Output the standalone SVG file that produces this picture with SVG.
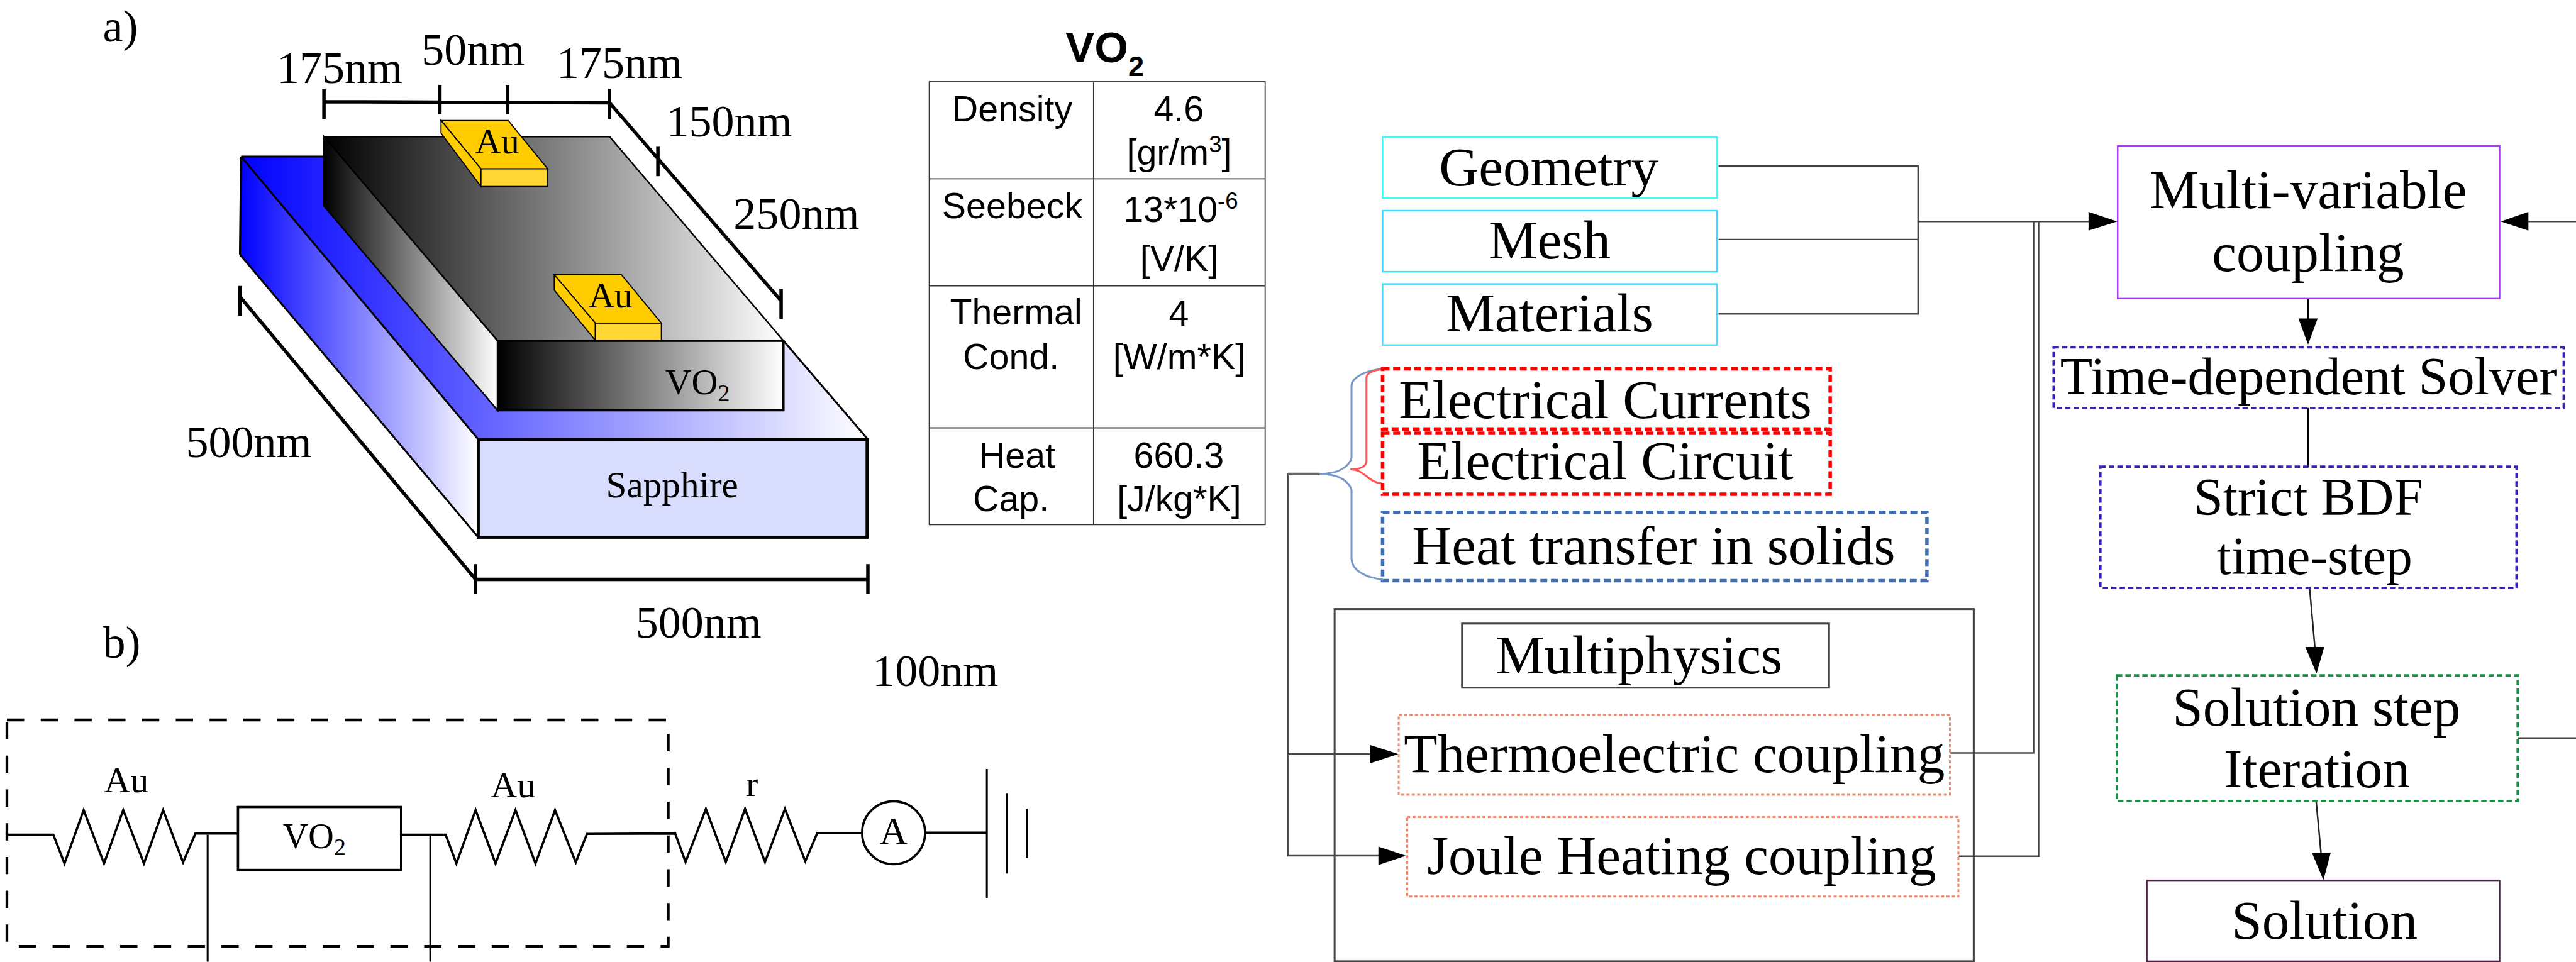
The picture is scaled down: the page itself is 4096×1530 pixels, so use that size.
<svg xmlns="http://www.w3.org/2000/svg" width="4096" height="1530" viewBox="0 0 4096 1530">
<style>
text{font-family:"Liberation Serif","Times New Roman",serif;fill:#000}
.d{font-size:118px}
.au{font-size:94px}
.m{text-anchor:middle}
.fl{font-size:143px;text-anchor:middle}
.t{font-family:"Liberation Sans",Arial,sans-serif;font-size:94px;text-anchor:middle}
.l{fill:none;stroke:#000;stroke-width:9}
.w{fill:none;stroke:#000;stroke-width:5}
.c{fill:none;stroke:#444;stroke-width:4}
.cy{fill:#fff;stroke-width:4}
.dot{fill:none;stroke-width:9;stroke-dasharray:18 9.5}
.dot2{fill:none;stroke-width:6;stroke-dasharray:14 8}
.sal{fill:none;stroke:#ef8a6e;stroke-width:5;stroke-dasharray:8 6}
.cell{fill:none;stroke:#333;stroke-width:3}
.edge{stroke:#000;stroke-width:4}
.thin{fill:none;stroke:#000;stroke-width:5}
</style>
<defs>
<linearGradient id="gBlueTop" gradientUnits="userSpaceOnUse" x1="628" y1="0" x2="2261" y2="0"><stop offset="0" stop-color="#0000ff"/><stop offset="1" stop-color="#ffffff"/></linearGradient>
<linearGradient id="gBlueLeft" gradientUnits="userSpaceOnUse" x1="625" y1="0" x2="1246" y2="0"><stop offset="0" stop-color="#0000ff"/><stop offset="1" stop-color="#ffffff"/></linearGradient>
<linearGradient id="gTop" gradientUnits="userSpaceOnUse" x1="844" y1="0" x2="2042" y2="0"><stop offset="0" stop-color="#000"/><stop offset="1" stop-color="#fff"/></linearGradient>
<linearGradient id="gLeft" gradientUnits="userSpaceOnUse" x1="844" y1="0" x2="1297" y2="0"><stop offset="0" stop-color="#000"/><stop offset="1" stop-color="#fff"/></linearGradient>
<linearGradient id="gFront" gradientUnits="userSpaceOnUse" x1="1297" y1="0" x2="2042" y2="0"><stop offset="0" stop-color="#000"/><stop offset="1" stop-color="#fff"/></linearGradient>
</defs>
<rect width="4096" height="1530" fill="#fff"/>
<g transform="scale(0.61034)">

<g id="panel-a">
<text x="268" y="108" class="d">a)</text>
<text x="721" y="216" class="d">175nm</text>
<text x="1098" y="168" class="d">50nm</text>
<text x="1450" y="203" class="d">175nm</text>
<text x="1736" y="356" class="d">150nm</text>
<text x="1911" y="596" class="d">250nm</text>
<text x="484" y="1191" class="d">500nm</text>
<text x="1656" y="1661" class="d">500nm</text>
<path class="l" d="M844 265L1588 268L2035 784M844 231V310M1146 221V298M1322 221V298M1588 231V310M1714 381V459M2035 752V831"/>
<path class="l" d="M625 773L1239 1510H2261M625 745V823M1239 1470V1547M2261 1470V1547"/>
</g>

<g id="sapphire">
<polygon points="628,408 1625,408 2261,1145 1246,1145" fill="url(#gBlueTop)"/>
<polygon points="628,408 625,663 1246,1400 1246,1145" fill="url(#gBlueLeft)"/>
<path class="thin" d="M628,408L1246,1145M628,408H850M625,663L1246,1400M628,408L625,663M2042,889L2261,1145"/>
<rect x="1246" y="1145" width="1013" height="255" fill="#d9ddfd" stroke="#000" stroke-width="8"/>
<text x="1751" y="1296" font-size="97" class="m">Sapphire</text>
</g>

<g id="vo2-film">
<polygon class="edge" points="844,356 1588,356 2042,889 1297,889" fill="url(#gTop)"/>
<polygon class="edge" points="844,356 844,537 1297,1070 1297,889" fill="url(#gLeft)"/>
<rect x="1297" y="888" width="744" height="181" fill="url(#gFront)" stroke="#000" stroke-width="6"/>
<text x="1733" y="1028" font-size="95">VO<tspan font-size="62" dy="17">2</tspan></text>
</g>

<g id="au-pad-1">
<polygon points="1149,314 1324,314 1427,440 1253,440" fill="#ffcc00" stroke="#000" stroke-width="3"/>
<polygon points="1149,314 1149,347 1253,486 1253,440" fill="#ffcc00" stroke="#000" stroke-width="3"/>
<rect x="1253" y="440" width="174" height="46" fill="#ffd633" stroke="#000" stroke-width="3"/>
<text x="1238" y="400" class="au">Au</text>
</g>
<g id="au-pad-2">
<polygon points="1444,716 1619,716 1723,842 1551,842" fill="#ffcc00" stroke="#000" stroke-width="3"/>
<polygon points="1444,716 1444,756 1551,887 1551,842" fill="#ffcc00" stroke="#000" stroke-width="3"/>
<rect x="1551" y="842" width="172" height="45" fill="#ffd633" stroke="#000" stroke-width="3"/>
<text x="1533" y="802" class="au">Au</text>
</g>

<g id="panel-b-label"><text x="268" y="1713" class="d">b)</text></g>
<g id="label-100nm"><text x="2273" y="1788" class="d">100nm</text></g>

<g id="table">
<text x="2776" y="162" font-size="113" font-weight="700" style="font-family:'Liberation Sans',Arial,sans-serif">VO<tspan font-size="74" dy="37">2</tspan></text>
<rect class="cell" x="2421" y="213" width="875" height="1154"/>
<path class="cell" d="M2849 213V1367M2421 466H3296M2421 745H3296M2421 1115H3296"/>
<text class="t" x="2637" y="316">Density</text>
<text class="t" x="3071" y="316">4.6</text>
<text class="t" x="3072" y="430">[gr/m<tspan font-size="60" dy="-34">3</tspan><tspan dy="34">]</tspan></text>
<text class="t" x="2637" y="569">Seebeck</text>
<text class="t" x="3076" y="578">13*10<tspan font-size="60" dy="-34">-6</tspan></text>
<text class="t" x="3072" y="706">[V/K]</text>
<text class="t" x="2647" y="846">Thermal</text>
<text class="t" x="2634" y="962">Cond.</text>
<text class="t" x="3071" y="849">4</text>
<text class="t" x="3072" y="962">[W/m*K]</text>
<text class="t" x="2650" y="1219">Heat</text>
<text class="t" x="2634" y="1332">Cap.</text>
<text class="t" x="3071" y="1219">660.3</text>
<text class="t" x="3072" y="1332">[J/kg*K]</text>
</g>

<g id="circuit">
<rect x="18" y="1876" width="1723" height="590" fill="none" stroke="#000" stroke-width="7" stroke-dasharray="45 43"/>
<path class="l" style="stroke-width:6" d="M18 2175H139L168 2250L218 2111L271 2250L321 2111L375 2250L425 2111L477 2247L509 2172H620"/>
<path class="l" style="stroke-width:6" d="M1045 2175H1161L1189 2250L1239 2111L1291 2250L1343 2111L1395 2250L1446 2111L1500 2247L1529 2173L1759 2172L1786 2246L1839 2108L1891 2246L1941 2108L1993 2246L2045 2108L2098 2244L2129 2171H2246"/>
<path class="l" style="stroke-width:6" d="M2410 2170H2571"/>
<path class="w" d="M2571 2004V2340M2623 2068V2276M2675 2108V2236M541 2175V2506M1121 2175V2506"/>
<rect x="620" y="2103" width="425" height="164" fill="#fff" stroke="#000" stroke-width="6"/>
<text x="737" y="2210" font-size="92">VO<tspan font-size="62" dy="19">2</tspan></text>
<circle cx="2328" cy="2170" r="82" fill="#fff" stroke="#000" stroke-width="6"/>
<text x="2328" y="2198" font-size="100" class="m">A</text>
<text x="271" y="2065" font-size="95">Au</text>
<text x="1279" y="2077" font-size="95">Au</text>
<text x="1943" y="2074" font-size="95">r</text>
</g>

<g id="connectors">
<path class="c" d="M4477 433H4997V818H4477M4477 624H4997M4997 577H5450"/>
<path class="c" d="M3438 1235H3355V2230H3600M3355 1965H3580"/>
<path class="c" d="M5081 1962H5298V577M5103 2231H5311V577"/>
<path class="c" d="M6711 577H6580M6559 1923H6711"/>
<path class="w" d="M6013 778V840M6013 1063V1216"/>
<path class="c" d="M6017 1532L6031 1690M6034 2087L6047 2226" style="stroke:#222"/>
<polygon points="5516,577 5441,552 5441,601"/>
<polygon points="6515,577 6587,552 6587,601"/>
<polygon points="6013,898 5988,830 6038,830"/>
<polygon points="6035,1755 6006,1686 6055,1686"/>
<polygon points="6053,2294 6023,2222 6072,2222"/>
<polygon points="3643,1965 3569,1941 3569,1989"/>
<polygon points="3663,2230 3591,2206 3591,2254"/>
<path d="M3602 961C3555 966 3521 985 3521 1005V1193C3515 1215 3490 1235 3438 1235C3490 1235 3515 1255 3521 1277V1455C3521 1485 3555 1505 3602 1510" fill="none" stroke="#7899c8" stroke-width="5"/>
<path d="M3602 962C3575 965 3560 972 3560 985V1203C3558 1215 3545 1223 3518 1223C3555 1223 3565 1258 3600 1260" fill="none" stroke="#ff5555" stroke-width="5"/>
<path d="M3355 1235H3438" stroke="#666" stroke-width="7" fill="none"/>
</g>

<g id="node-geometry"><rect class="cy" x="3602" y="357" width="871" height="159" stroke="#33ffff"/><text class="fl" x="4035" y="483">Geometry</text></g>
<g id="node-mesh"><rect class="cy" x="3602" y="549" width="871" height="159" stroke="#33ddff"/><text class="fl" x="4037" y="673">Mesh</text></g>
<g id="node-materials"><rect class="cy" x="3602" y="740" width="871" height="159" stroke="#44ddff"/><text class="fl" x="4037" y="864">Materials</text></g>
<g id="node-electrical-currents"><rect class="dot" x="3602" y="961" width="1166" height="157" stroke="#ff0000"/><text class="fl" x="4182" y="1089">Electrical Currents</text></g>
<g id="node-electrical-circuit"><rect class="dot" x="3602" y="1129" width="1166" height="159" stroke="#ff0000"/><text class="fl" x="4182" y="1249">Electrical Circuit</text></g>
<g id="node-heat-transfer"><rect class="dot" x="3602" y="1335" width="1418" height="178" stroke="#3f6db0"/><text class="fl" x="4308" y="1469">Heat transfer in solids</text></g>

<g id="node-multiphysics">
<rect class="c" x="3477" y="1587" width="1665" height="918" style="stroke-width:5"/>
<rect class="c" x="3809" y="1625" width="956" height="167" style="stroke-width:5"/>
<text class="fl" x="4270" y="1755">Multiphysics</text>
</g>
<g id="node-thermoelectric"><rect class="sal" x="3644" y="1863" width="1436" height="208"/><text class="fl" x="4362" y="2012">Thermoelectric coupling</text></g>
<g id="node-joule"><rect class="sal" x="3666" y="2129" width="1436" height="207"/><text class="fl" x="4381" y="2278">Joule Heating coupling</text></g>

<g id="node-multivariable"><rect x="5517" y="380" width="995" height="398" fill="#fff" stroke="#aa33ff" stroke-width="4"/><text class="fl" x="6014" y="543">Multi-variable</text><text class="fl" x="6013" y="706">coupling</text></g>
<g id="node-time-solver"><rect class="dot2" x="5350" y="905" width="1329" height="158" stroke="#3322bb"/><text class="fl" style="font-size:138px" x="6014" y="1027">Time-dependent Solver</text></g>
<g id="node-bdf"><rect class="dot2" x="5472" y="1216" width="1084" height="316" stroke="#3322bb"/><text class="fl" style="font-size:137px" x="6014" y="1342">Strict BDF</text><text class="fl" style="font-size:137px" x="6030" y="1496">time-step</text></g>
<g id="node-iteration"><rect class="dot2" x="5515" y="1760" width="1044" height="327" stroke="#1a8f45"/><text class="fl" x="6035" y="1891">Solution step</text><text class="fl" x="6036" y="2052">Iteration</text></g>
<g id="node-solution"><rect x="5593" y="2294" width="919" height="211" fill="#fff" stroke="#4d2045" stroke-width="4"/><text class="fl" x="6056" y="2446">Solution</text></g>

</g>
</svg>
